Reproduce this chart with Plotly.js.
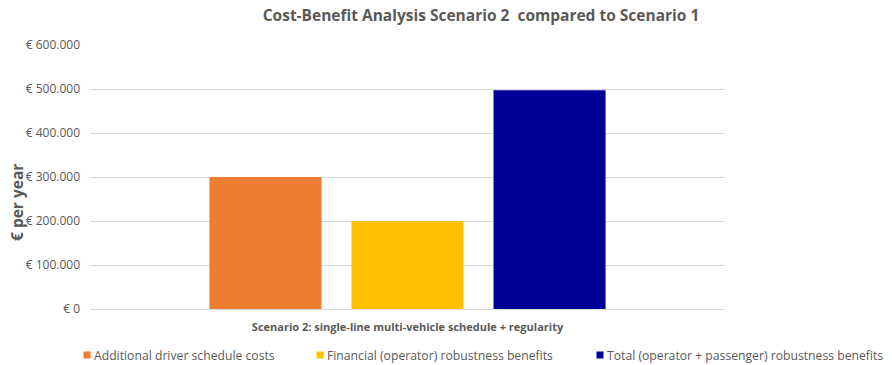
<!DOCTYPE html>
<html>
<head>
<meta charset="utf-8">
<script src="https://cdn.plot.ly/plotly-3.0.1.min.js"></script>
<style>html,body{margin:0;padding:0;background:#fff;}#chart{width:892px;height:365px;}</style>
</head>
<body>
<div id="chart"></div>
<script>
const category = ["Scenario 2: single-line multi-vehicle schedule + regularity"];
const seriesNames = [
  "Additional driver schedule costs",
  "Financial (operator) robustness benefits",
  "Total (operator + passenger) robustness benefits"
];
const seriesValues = [300000, 200000, 497000];
const seriesColors = ["#ED7D31", "#FFC000", "#000099"];
const tickValues = [0, 100000, 200000, 300000, 400000, 500000, 600000];
const tickLabels = ["€ 0", "€ 100.000", "€ 200.000", "€ 300.000", "€ 400.000", "€ 500.000", "€ 600.000"];
const yTitle = "€ per year";
const chartTitle = "Cost-Benefit Analysis Scenario 2  compared to Scenario 1";

const font = "'Open Sans', sans-serif";
const legendIds = ["legend", "legend2", "legend3"];
const legendX = [54, 287, 567];

const traces = seriesNames.map((n, i) => ({
  type: "bar",
  name: n,
  x: category,
  y: [seriesValues[i]],
  marker: {color: seriesColors[i]},
  legend: legendIds[i],
  hoverinfo: "none"
}));

const layout = {
  width: 892, height: 365,
  margin: {l: 90, r: 167, t: 45, b: 56, autoexpand: false},
  paper_bgcolor: "#fff", plot_bgcolor: "#fff",
  barmode: "group",
  bargap: 0.329,
  bargroupgap: 0.211,
  font: {family: font, color: "#595959", size: 11},
  title: {
    text: chartTitle,
    font: {family: font, size: 15.5, color: "#595959", weight: "bold"},
    x: 481/892, xanchor: "center", xref: "container",
    y: 1 - 16/365, yanchor: "middle", yref: "container"
  },
  xaxis: {
    showline: true, linecolor: "#d9d9d9", linewidth: 1,
    ticks: "", ticklabelstandoff: 8,
    tickfont: {family: font, size: 11, color: "#595959", weight: "bold"},
    fixedrange: true, automargin: false
  },
  yaxis: {
    range: [0, 600000],
    tickvals: tickValues, ticktext: tickLabels,
    tickfont: {family: font, size: 12, color: "#595959"},
    ticklabelstandoff: 9,
    gridcolor: "#d9d9d9", gridwidth: 1,
    zeroline: false, ticks: "", ticklen: 0,
    fixedrange: true, automargin: false
  },
  annotations: [{
    text: yTitle, textangle: -90, showarrow: false,
    xref: "paper", yref: "paper",
    x: (17 - 90) / 635, y: (309 - 203) / 264,
    xanchor: "center", yanchor: "middle",
    font: {family: font, size: 15.5, color: "#595959", weight: "bold"}
  }],
  showlegend: true
};
legendIds.forEach((id, i) => {
  layout[id] = {
    orientation: "h",
    xref: "container", yref: "container",
    x: legendX[i] / 892, xanchor: "left",
    y: 1 - 355 / 365, yanchor: "middle",
    font: {family: font, size: 12.2, color: "#595959"},
    bgcolor: "rgba(0,0,0,0)"
  };
});

Plotly.newPlot("chart", traces, layout, {displayModeBar: false, staticPlot: true}).then(() => {
  document.querySelectorAll("#chart .legendpoints").forEach(g => {
    g.setAttribute("transform", "translate(13,0)");
    g.querySelectorAll("path").forEach(p => p.setAttribute("d", "M3.5,3.5H-3.5V-3.5H3.5Z"));
  });
});
</script>
</body>
</html>
